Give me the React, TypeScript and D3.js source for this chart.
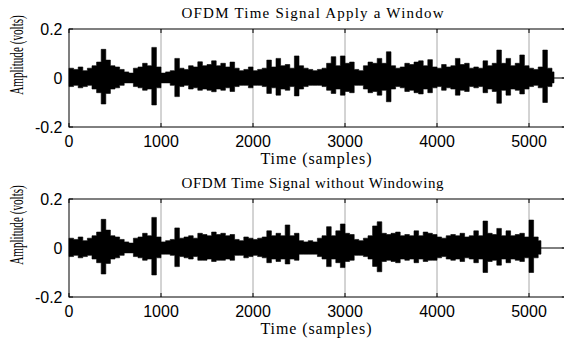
import React, { useEffect, useRef } from 'react';
import * as d3 from 'd3';

// envelope of the signal, read per 50-sample bin (peak / trough in volts)
const binSize = 50;

const windowedHi = [
  0.04, 0.035, 0.045, 0.03, 0.04, 0.05, 0.065, 0.117, 0.073, 0.05,
  0.045, 0.035, 0.025, 0.02, 0.04, 0.045, 0.06, 0.05, 0.125, 0.045,
  0.02, 0.025, 0.03, 0.08, 0.04, 0.035, 0.05, 0.045, 0.066, 0.05,
  0.055, 0.07, 0.05, 0.06, 0.045, 0.065, 0.04, 0.03, 0.035, 0.045,
  0.03, 0.035, 0.04, 0.073, 0.045, 0.08, 0.05, 0.055, 0.04, 0.09,
  0.05, 0.04, 0.035, 0.03, 0.035, 0.04, 0.06, 0.087, 0.05, 0.09,
  0.06, 0.065, 0.035, 0.03, 0.05, 0.065, 0.06, 0.08, 0.06, 0.107,
  0.05, 0.04, 0.045, 0.06, 0.055, 0.065, 0.07, 0.05, 0.075, 0.045,
  0.04, 0.055, 0.045, 0.05, 0.08, 0.055, 0.06, 0.04, 0.045, 0.04,
  0.07, 0.05, 0.06, 0.114, 0.06, 0.08, 0.05, 0.06, 0.094, 0.05,
  0.04, 0.035, 0.045, 0.114, 0.04, 0.025
];
const windowedLo = [
  -0.035, -0.03, -0.04, -0.035, -0.03, -0.045, -0.06, -0.106, -0.063, -0.045,
  -0.04, -0.03, -0.02, -0.02, -0.035, -0.04, -0.05, -0.045, -0.11, -0.04,
  -0.02, -0.02, -0.03, -0.076, -0.035, -0.03, -0.045, -0.04, -0.05, -0.045,
  -0.05, -0.056, -0.045, -0.05, -0.04, -0.055, -0.035, -0.03, -0.03, -0.04,
  -0.03, -0.03, -0.035, -0.063, -0.04, -0.07, -0.045, -0.05, -0.035, -0.073,
  -0.045, -0.035, -0.03, -0.03, -0.03, -0.035, -0.05, -0.063, -0.045, -0.07,
  -0.055, -0.06, -0.03, -0.03, -0.045, -0.06, -0.055, -0.07, -0.05, -0.097,
  -0.045, -0.035, -0.04, -0.055, -0.05, -0.06, -0.065, -0.045, -0.06, -0.04,
  -0.035, -0.05, -0.04, -0.045, -0.07, -0.05, -0.055, -0.035, -0.04, -0.035,
  -0.06, -0.045, -0.055, -0.103, -0.05, -0.07, -0.045, -0.05, -0.065, -0.045,
  -0.035, -0.03, -0.04, -0.1, -0.035, -0.02
];
const windowedEnd = 5272;

const plainHi = [
  0.04, 0.035, 0.045, 0.03, 0.04, 0.05, 0.065, 0.117, 0.073, 0.05,
  0.045, 0.035, 0.025, 0.02, 0.04, 0.045, 0.06, 0.05, 0.125, 0.045,
  0.025, 0.03, 0.035, 0.082, 0.04, 0.045, 0.05, 0.04, 0.06, 0.055,
  0.05, 0.065, 0.055, 0.06, 0.05, 0.055, 0.035, 0.03, 0.045, 0.04,
  0.035, 0.04, 0.045, 0.07, 0.05, 0.06, 0.05, 0.094, 0.05, 0.06,
  0.03, 0.025, 0.03, 0.025, 0.04, 0.05, 0.087, 0.05, 0.07, 0.098,
  0.06, 0.055, 0.035, 0.03, 0.04, 0.05, 0.09, 0.107, 0.06, 0.055,
  0.06, 0.065, 0.05, 0.055, 0.05, 0.07, 0.05, 0.065, 0.06, 0.055,
  0.045, 0.04, 0.05, 0.055, 0.05, 0.06, 0.045, 0.05, 0.07, 0.05,
  0.11, 0.06, 0.055, 0.08, 0.05, 0.07, 0.05, 0.055, 0.06, 0.045,
  0.114, 0.045, 0.03
];
const plainLo = [
  -0.035, -0.03, -0.04, -0.035, -0.03, -0.045, -0.06, -0.106, -0.063, -0.045,
  -0.04, -0.03, -0.02, -0.02, -0.035, -0.04, -0.05, -0.045, -0.11, -0.04,
  -0.025, -0.025, -0.03, -0.076, -0.035, -0.04, -0.045, -0.035, -0.05, -0.05,
  -0.045, -0.055, -0.05, -0.05, -0.045, -0.05, -0.03, -0.03, -0.04, -0.035,
  -0.03, -0.035, -0.04, -0.06, -0.045, -0.055, -0.045, -0.065, -0.045, -0.05,
  -0.025, -0.025, -0.025, -0.025, -0.035, -0.045, -0.076, -0.045, -0.06, -0.08,
  -0.055, -0.05, -0.03, -0.03, -0.035, -0.045, -0.075, -0.097, -0.055, -0.05,
  -0.055, -0.06, -0.045, -0.05, -0.045, -0.06, -0.045, -0.055, -0.05, -0.05,
  -0.04, -0.035, -0.045, -0.05, -0.045, -0.055, -0.04, -0.045, -0.06, -0.045,
  -0.1, -0.055, -0.05, -0.07, -0.045, -0.06, -0.045, -0.05, -0.055, -0.04,
  -0.1, -0.04, -0.025
];
const plainEnd = 5130;

const xTicks = [0, 1000, 2000, 3000, 4000, 5000];
const yTicks = [-0.2, 0, 0.2];
const yTickLabels = ['-0.2', '0', '0.2'];
const xDomain = [0, 5400];
const yDomain = [-0.2, 0.2];

const panels = [
  { title: 'OFDM Time Signal Apply a Window', hi: windowedHi, lo: windowedLo, end: windowedEnd, top: 29 },
  { title: 'OFDM Time Signal without Windowing', hi: plainHi, lo: plainLo, end: plainEnd, top: 199 }
];

const App = () => {
  const svgRef = useRef<SVGSVGElement>(null);

  useEffect(() => {
    if (!svgRef.current) return;
    const svg = d3.select(svgRef.current);
    svg.selectAll('*').remove();

    const left = 69;
    const right = 565.8;
    const plotH = 98;
    const serif = 'Liberation Serif, Times New Roman, serif';
    const sans = 'Liberation Sans, Arial, sans-serif';

    const x = d3.scaleLinear().domain(xDomain).range([left, right]);

    panels.forEach(p => {
      const y = d3.scaleLinear().domain(yDomain).range([p.top + plotH, p.top]);
      const g = svg.append('g');

      // grid
      g.selectAll('.grid')
        .data(xTicks.filter(t => t > 0))
        .enter()
        .append('line')
        .attr('x1', d => x(d)).attr('x2', d => x(d))
        .attr('y1', p.top).attr('y2', p.top + plotH)
        .attr('stroke', '#a8a8a8')
        .attr('stroke-width', 1);

      // signal envelope, one step per bin
      const bins = p.hi.map((v, i) => ({ s: i * binSize, hi: v, lo: p.lo[i] }));
      bins.push({ s: p.end, hi: 0, lo: 0 });

      const area = d3.area<{ s: number; hi: number; lo: number }>()
        .x(d => x(d.s))
        .y0(d => y(d.lo))
        .y1(d => y(d.hi))
        .curve(d3.curveStepAfter);

      g.append('path')
        .attr('d', area(bins))
        .attr('fill', '#000')
        .attr('stroke', '#000')
        .attr('stroke-width', 0.6);

      // flat tail after the signal ends
      g.append('line')
        .attr('x1', x(p.end)).attr('x2', x(xDomain[1]))
        .attr('y1', y(0)).attr('y2', y(0))
        .attr('stroke', '#000')
        .attr('stroke-width', 1);

      // box
      g.append('rect')
        .attr('x', left).attr('y', p.top)
        .attr('width', right - left).attr('height', plotH)
        .attr('fill', 'none')
        .attr('stroke', '#000')
        .attr('stroke-width', 1);

      // x ticks (inward, top and bottom)
      xTicks.forEach(t => {
        g.append('line')
          .attr('x1', x(t)).attr('x2', x(t))
          .attr('y1', p.top + plotH).attr('y2', p.top + plotH - 4)
          .attr('stroke', '#000');
        g.append('line')
          .attr('x1', x(t)).attr('x2', x(t))
          .attr('y1', p.top).attr('y2', p.top + 4)
          .attr('stroke', '#000');
        g.append('text')
          .attr('x', x(t))
          .attr('y', p.top + plotH + 19.5)
          .attr('text-anchor', 'middle')
          .attr('font-family', sans)
          .attr('font-size', '16px')
          .text(t);
      });

      // y ticks
      yTicks.forEach((t, i) => {
        g.append('line')
          .attr('x1', left).attr('x2', left + 4)
          .attr('y1', y(t)).attr('y2', y(t))
          .attr('stroke', '#000');
        g.append('line')
          .attr('x1', right).attr('x2', right - 4)
          .attr('y1', y(t)).attr('y2', y(t))
          .attr('stroke', '#000');
        g.append('text')
          .attr('x', 62.5)
          .attr('y', y(t) + 6)
          .attr('text-anchor', 'end')
          .attr('font-family', sans)
          .attr('font-size', '16px')
          .text(yTickLabels[i]);
      });

      // title
      g.append('text')
        .attr('x', 312.5)
        .attr('y', p.top - 11.5)
        .attr('text-anchor', 'middle')
        .attr('font-family', serif)
        .attr('font-size', '15px')
        .attr('textLength', 262)
        .attr('lengthAdjust', 'spacing')
        .text(p.title);

      // x label
      g.append('text')
        .attr('x', 316)
        .attr('y', p.top + plotH + 37)
        .attr('text-anchor', 'middle')
        .attr('font-family', serif)
        .attr('font-size', '16px')
        .attr('textLength', 111)
        .attr('lengthAdjust', 'spacing')
        .text('Time (samples)');

      // y label (narrowed along its length like the original)
      g.append('text')
        .attr('transform', `translate(23, ${p.top + 26}) rotate(-90) scale(0.62, 1)`)
        .attr('text-anchor', 'middle')
        .attr('font-family', serif)
        .attr('font-size', '18px')
        .text('Amplitude (volts)');
    });
  }, []);

  return (
    <div style={{ position: 'absolute', left: 0, top: 0 }}>
      <svg ref={svgRef} width={564} height={343} style={{ display: 'block', background: '#fff' }}></svg>
    </div>
  );
};

export default App;
